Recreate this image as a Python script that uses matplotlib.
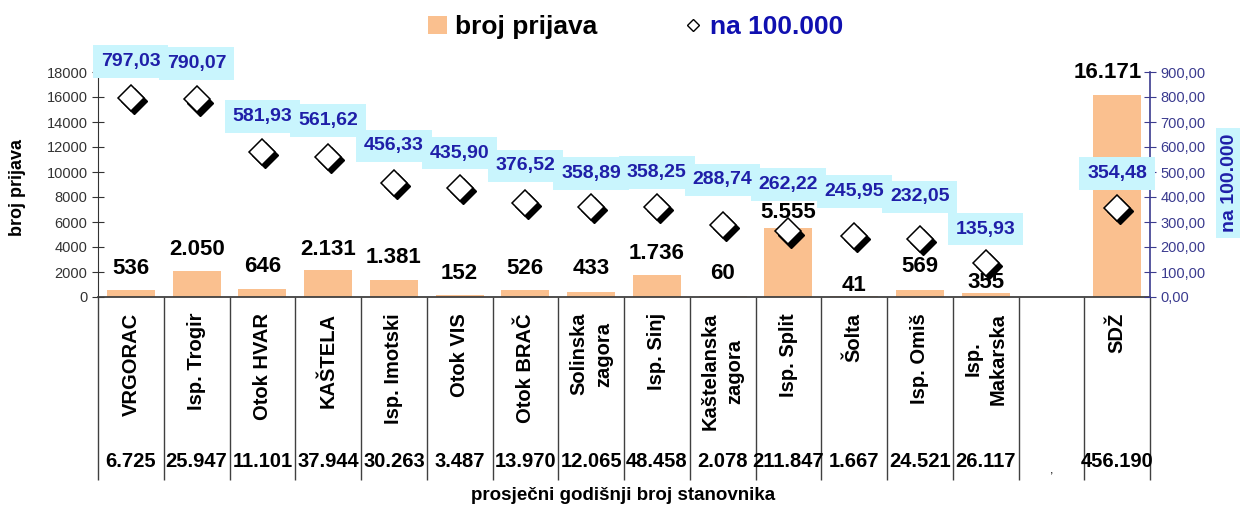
import matplotlib
matplotlib.use('Agg')
import matplotlib.pyplot as plt
import matplotlib.transforms as mtransforms
from matplotlib.lines import Line2D
from matplotlib.patches import Patch
import numpy as np

plt.rcParams['font.family'] = ['Liberation Sans', 'DejaVu Sans']

# podaci (prazno mjesto izmedju ispostava i SDZ)
kategorije = ['VRGORAC', 'Isp. Trogir', 'Otok HVAR', 'KAŠTELA', 'Isp. Imotski', 'Otok VIS',
              'Otok BRAČ', 'Solinska\nzagora', 'Isp. Sinj', 'Kaštelanska\nzagora', 'Isp. Split',
              'Šolta', 'Isp. Omiš', 'Isp.\nMakarska', '', 'SDŽ']
prijave = [536, 2050, 646, 2131, 1381, 152, 526, 433, 1736, 60, 5555, 41, 569, 355, np.nan, 16171]
na100 = [797.03, 790.07, 581.93, 561.62, 456.33, 435.90, 376.52, 358.89, 358.25, 288.74,
         262.22, 245.95, 232.05, 135.93, np.nan, 354.48]
stanovnici = [6725, 25947, 11101, 37944, 30263, 3487, 13970, 12065, 48458, 2078, 211847,
              1667, 24521, 26117, np.nan, 456190]

# pomaci natpisa u pikselima (rucno pomaknuti kao u Excelu)
dy_prijave = [22, 22, 22, 21, 22, 22, 22, 23, 22, 23, 15, 11, 23, 10, 0, 22]
dx_prijave = [0, 0, 0, 0, 0, 0, 0, 0, 0, 0, 0, 0, 0, 0, 0, -9]
dy_na100 = [36, 36, 35, 36, 37, 35, 37, 34, 35, 45, 47, 44, 42, 34, 0, 35]

BOJA_STUPCA = '#fac08f'
PLAVA = '#1f1fa8'
CIJAN = '#c9f5fd'
NAVY = '#3b3b8f'


def hr_int(v):
    return f'{int(v):,}'.replace(',', '.')


def hr_dec(v):
    return f'{v:.2f}'.replace('.', ',')


fig = plt.figure(figsize=(12.4, 5.08), dpi=100)
ax = fig.add_axes([98/1240, 211/508, 1052/1240, 225/508])
x = np.arange(len(kategorije))

ax.bar(x, prijave, width=0.73, color=BOJA_STUPCA, zorder=2)
ax.set_xlim(-0.5, len(kategorije) - 0.5)
ax.set_ylim(0, 18000)
ax.set_yticks(np.arange(0, 18001, 2000))
ax.tick_params(axis='y', direction='inout', length=9, pad=3, labelsize=10.5,
               labelcolor='#333333', color='#333333')
ax.set_xticks(np.arange(-0.5, len(kategorije), 1))
ax.set_xticklabels([])
ax.tick_params(axis='x', direction='out', length=132, color='#404040', width=1)
ax.spines['top'].set_visible(False)
ax.spines['right'].set_visible(False)
ax.spines['bottom'].set_color('#404040')
ax.spines['bottom'].set_linewidth(1.3)
ax.spines['left'].set_color('#333333')

# natpisi na stupcima
for i, v in enumerate(prijave):
    if np.isnan(v):
        continue
    ax.annotate(hr_int(v), (x[i], v), xytext=(dx_prijave[i], dy_prijave[i]),
                textcoords='offset pixels', ha='center', va='center',
                fontsize=16, fontweight='bold', color='black')

# kategorije i broj stanovnika ispod osi
trans = ax.get_xaxis_transform()
for i, k in enumerate(kategorije):
    ax.text(x[i], -0.071, k, transform=trans, rotation=90, ha='center', va='top',
            ma='center', fontsize=14.5, fontweight='bold', linespacing=1.4)
    s = stanovnici[i]
    if np.isnan(s):
        ax.text(x[i], -0.77, ',', transform=trans, ha='center', va='center', fontsize=9)
    else:
        ax.text(x[i], -0.733, hr_int(s), transform=trans, ha='center', va='center',
                fontsize=14.5, fontweight='bold')

# desna os - na 100.000
ax2 = ax.twinx()
ax2.set_ylim(0, 900)
yt = np.arange(0, 901, 100)
ax2.set_yticks(yt)
ax2.set_yticklabels([hr_dec(v) for v in yt])
ax2.tick_params(axis='y', direction='inout', length=9, pad=3, labelsize=10.5,
                colors=NAVY)
for s in ['top', 'left', 'bottom']:
    ax2.spines[s].set_visible(False)
ax2.spines['right'].set_color(NAVY)
ax2.spines['right'].set_linewidth(1.2)

sjena = mtransforms.offset_copy(ax2.transData, fig=fig, x=2.2, y=-2.2, units='points')
ax2.plot(x, na100, ls='none', marker='D', ms=13, mfc='black', mec='black',
         transform=sjena, zorder=3)
ax2.plot(x, na100, ls='none', marker='D', ms=13, mfc='white', mec='black',
         mew=1.1, zorder=4)

# prvo pozadine (da se susjedni okviri ne preklapaju preko teksta), zatim tekst
for i, v in enumerate(na100):
    if np.isnan(v):
        continue
    ax2.annotate(hr_dec(v), (x[i], v), xytext=(0, dy_na100[i]),
                 textcoords='offset pixels', ha='center', va='center',
                 fontsize=14, fontweight='bold', color=CIJAN, zorder=5,
                 bbox=dict(boxstyle='square,pad=0.4', fc=CIJAN, ec='none'))
    ax2.annotate(hr_dec(v), (x[i], v), xytext=(0, dy_na100[i]),
                 textcoords='offset pixels', ha='center', va='center',
                 fontsize=14, fontweight='bold', color=PLAVA, zorder=6)

# naslovi osi
fig.text(18/1240, 1 - 187/508, 'broj prijava', rotation=90, ha='center', va='center',
         fontsize=13, fontweight='bold')
fig.text(1230/1240, 1 - 183/508, 'na 100.000', rotation=90, ha='center', va='center',
         fontsize=14, fontweight='bold', color=PLAVA,
         bbox=dict(boxstyle='square,pad=0.3', fc=CIJAN, ec='none'))
fig.text(623/1240, 1 - 496/508, 'prosječni godišnji broj stanovnika', ha='center',
         va='center', fontsize=13.5, fontweight='bold')

# legenda
h = [Patch(fc=BOJA_STUPCA, ec='none'),
     Line2D([], [], ls='none', marker='D', ms=6, mfc='white', mec='black', mew=1)]
leg = fig.legend(h, ['broj prijava', 'na 100.000'], loc='center',
                 bbox_to_anchor=(636/1240, 1 - 27/508), ncol=2, frameon=False,
                 prop=dict(weight='bold', size=19), handlelength=0.7, handleheight=0.7,
                 handletextpad=0.3, columnspacing=3.3)
leg.get_texts()[1].set_color('#1010b0')

fig.savefig('out.png', dpi=100)
